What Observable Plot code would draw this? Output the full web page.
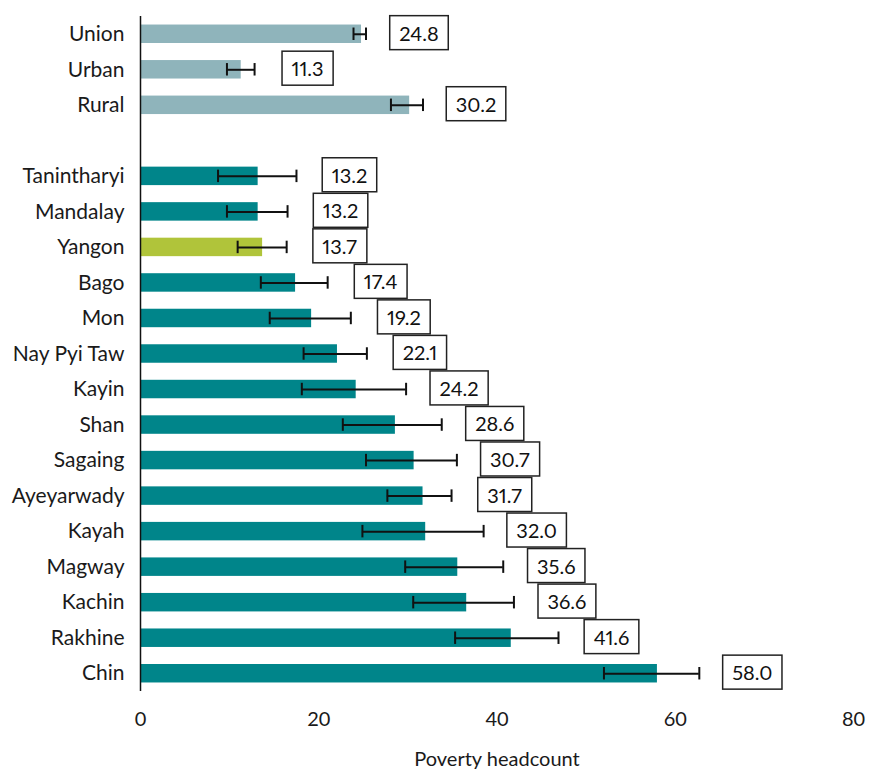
<!DOCTYPE html>
<html>
<head>
<meta charset="utf-8">
<script src="https://cdn.jsdelivr.net/npm/d3@7"></script>
<script src="https://cdn.jsdelivr.net/npm/@observablehq/plot@0.6"></script>
<style>
  html, body { margin: 0; padding: 0; background: #fff; }
  #chart svg { display: block; font-variant-numeric: proportional-nums; }
</style>
</head>
<body>
<div id="chart"></div>
<script>
// Category order (a blank spacer separates national figures from states/regions)
const domainOrder = ["Union", "Urban", "Rural", " ", "Tanintharyi", "Mandalay", "Yangon", "Bago", "Mon",
  "Nay Pyi Taw", "Kayin", "Shan", "Sagaing", "Ayeyarwady", "Kayah", "Magway", "Kachin", "Rakhine", "Chin"];

const categories = ["Union", "Urban", "Rural", "Tanintharyi", "Mandalay", "Yangon", "Bago", "Mon",
  "Nay Pyi Taw", "Kayin", "Shan", "Sagaing", "Ayeyarwady", "Kayah", "Magway", "Kachin", "Rakhine", "Chin"];
const values = [24.8, 11.3, 30.2, 13.2, 13.2, 13.7, 17.4, 19.2, 22.1, 24.2, 28.6, 30.7, 31.7, 32.0, 35.6, 36.6, 41.6, 58.0];
const lows   = [23.9, 9.7, 28.1, 8.7, 9.7, 10.9, 13.5, 14.5, 18.3, 18.1, 22.7, 25.3, 27.7, 24.9, 29.7, 30.6, 35.3, 52.0];
const highs  = [25.3, 12.8, 31.7, 17.5, 16.5, 16.4, 21.0, 23.6, 25.4, 29.8, 33.8, 35.5, 34.9, 38.5, 40.7, 41.9, 46.9, 62.7];
const groups = ["national", "national", "national", "region", "region", "highlight", "region", "region",
  "region", "region", "region", "region", "region", "region", "region", "region", "region", "region"];
const xTicks = [0, 20, 40, 60, 80];

const data = categories.map((c, i) => ({
  name: c, value: values[i], lo: lows[i], hi: highs[i], group: groups[i]
}));

const FONT = "Lato, 'Open Sans', sans-serif";

const plot = Plot.plot({
  width: 869,
  height: 769,
  marginLeft: 140,
  marginRight: 16,
  marginTop: 16,
  marginBottom: 78,
  style: { fontFamily: FONT, fontSize: "20px", color: "#1a1a1a", background: "#fff" },
  x: { domain: [0, 80] },
  y: { domain: domainOrder, paddingInner: 0.48, paddingOuter: 0.24, round: false, label: null },
  color: { domain: ["national", "region", "highlight"], range: ["#8fb4bb", "#00858a", "#b0c43a"] },
  marks: [
    Plot.barX(data, { y: "name", x: "value", fill: "group" }),
    Plot.ruleY(data, { y: "name", x1: "lo", x2: "hi", stroke: "#111", strokeWidth: 2 }),
    Plot.tickX(data, { y: "name", x: "lo", stroke: "#111", strokeWidth: 2, insetTop: 3, insetBottom: 3 }),
    Plot.tickX(data, { y: "name", x: "hi", stroke: "#111", strokeWidth: 2, insetTop: 3, insetBottom: 3 }),
    Plot.text(data, { y: "name", x: "hi", dx: 53, text: d => d.value.toFixed(1), fill: "#111",
      fontSize: 20, textAnchor: "middle" }),
    Plot.ruleX([0], { stroke: "#111", strokeWidth: 1.5 }),
    Plot.axisY({ tickSize: 0, tickPadding: 16, fontSize: 21, label: null }),
    Plot.axisX({ ticks: xTicks, tickSize: 0, tickPadding: 20, fontSize: 20,
      label: "Poverty headcount", labelArrow: "none", labelAnchor: "center", labelOffset: 74 })
  ]
});

document.getElementById("chart").appendChild(plot);

// Draw a framed box behind each value label
const svgNS = "http://www.w3.org/2000/svg";
plot.querySelectorAll('g[aria-label="text"] text').forEach(t => {
  const b = t.getBBox();
  const cx = b.x + b.width / 2, cy = b.y + b.height / 2;
  const w = b.width + 19, h = 34;
  const r = document.createElementNS(svgNS, "rect");
  r.setAttribute("x", cx - w / 2);
  r.setAttribute("y", cy - h / 2);
  r.setAttribute("width", w);
  r.setAttribute("height", h);
  r.setAttribute("fill", "#fff");
  r.setAttribute("stroke", "#222");
  r.setAttribute("stroke-width", 1.5);
  const tr = t.getAttribute("transform");
  if (tr) r.setAttribute("transform", tr);
  t.parentNode.insertBefore(r, t);
});
</script>
</body>
</html>
